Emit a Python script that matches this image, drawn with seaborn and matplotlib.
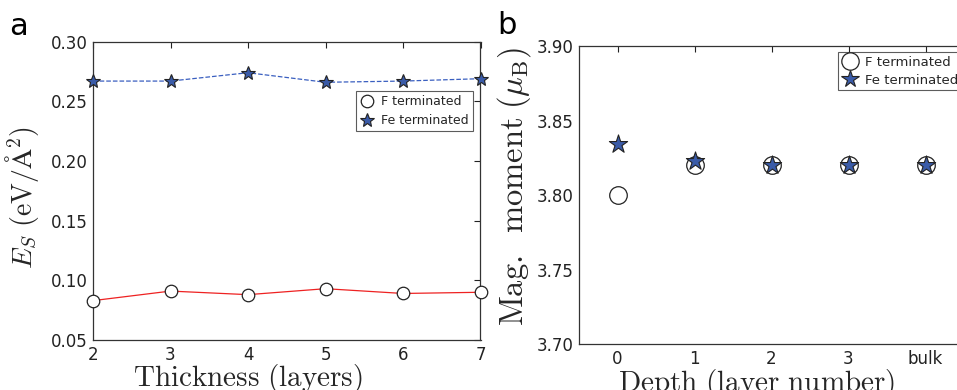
import numpy as np
import pandas as pd
import seaborn as sns
import matplotlib
matplotlib.use("Agg")
import matplotlib.pyplot as plt
from matplotlib.lines import Line2D

# ---- data ----
thickness = [2, 3, 4, 5, 6, 7]
es_f_term = [0.083, 0.091, 0.088, 0.093, 0.089, 0.090]
es_fe_term = [0.267, 0.267, 0.274, 0.266, 0.267, 0.269]

depth_labels = ["0", "1", "2", "3", "bulk"]
mag_f_term = [3.800, 3.820, 3.820, 3.820, 3.820]
mag_fe_term = [3.834, 3.823, 3.820, 3.820, 3.820]

sns.set_style("white")
plt.rcParams["font.family"] = ["DejaVu Sans"]
plt.rcParams["mathtext.fontset"] = "cm"

star_blue = "#3a5ba8"
edge = "#222222"

fig = plt.figure(figsize=(9.57, 3.9), dpi=100)
W, H = 957, 390
axa = fig.add_axes([93 / W, (H - 340) / H, (480.5 - 93) / W, (340 - 41.7) / H])
axb = fig.add_axes([579 / W, (H - 344) / H, 385 / W, (344 - 46) / H])

# ---- panel a ----
dfa = pd.DataFrame({"x": thickness, "f": es_f_term, "fe": es_fe_term})
sns.lineplot(data=dfa, x="x", y="fe", ax=axa, color="#3a5fc0", lw=0.9,
             linestyle="--", dashes=(5, 3), marker="*", markersize=10,
             markerfacecolor=star_blue, markeredgecolor=edge, markeredgewidth=0.8,
             clip_on=False, zorder=3)
sns.lineplot(data=dfa, x="x", y="f", ax=axa, color="#ee2222", lw=0.9,
             marker="o", markersize=9, markerfacecolor="white",
             markeredgecolor=edge, markeredgewidth=0.9, clip_on=False, zorder=3)
axa.set_xlim(2, 7)
axa.set_ylim(0.05, 0.30)
axa.set_xticks(thickness)
axa.set_yticks([0.05, 0.10, 0.15, 0.20, 0.25, 0.30])
axa.yaxis.set_major_formatter(matplotlib.ticker.FormatStrFormatter("%.2f"))
axa.set_xlabel(r"$\mathrm{Thickness\ (layers)}$", fontsize=21)
axa.set_ylabel(r"$E_S\ (\mathrm{eV/\AA^2})$", fontsize=20)
axa.xaxis.set_label_coords(0.40, -0.075)
axa.yaxis.set_label_coords(-0.135, 0.479)

h1 = Line2D([], [], ls="none", marker="o", markersize=9, markerfacecolor="white",
            markeredgecolor=edge, markeredgewidth=0.9)
h2 = Line2D([], [], ls="none", marker="*", markersize=10, markerfacecolor=star_blue,
            markeredgecolor=edge, markeredgewidth=0.8)
leg = axa.legend([h1, h2], ["F terminated", "Fe terminated"], loc="upper right",
                 bbox_to_anchor=(0.98, 0.835), fontsize=9, frameon=True, fancybox=False,
                 handlelength=1.0, handletextpad=0.6, borderpad=0.35, labelspacing=0.45,
                 borderaxespad=0)
leg.get_frame().set_edgecolor("#333333")
leg.get_frame().set_linewidth(0.8)

# ---- panel b ----
pos = list(range(len(depth_labels)))
dfb = pd.DataFrame({"x": pos, "f": mag_f_term, "fe": mag_fe_term})
sns.scatterplot(data=dfb, x="x", y="f", ax=axb, marker="o", s=160, color="white",
                edgecolor=edge, linewidth=0.9, zorder=3)
sns.scatterplot(data=dfb, x="x", y="fe", ax=axb, marker="*", s=190, color=star_blue,
                edgecolor=edge, linewidth=0.8, zorder=4)
axb.set_xlim(-0.5, 4.5)
axb.set_ylim(3.70, 3.90)
axb.set_xticks(pos)
axb.set_xticklabels(depth_labels)
axb.set_yticks([3.70, 3.75, 3.80, 3.85, 3.90])
axb.yaxis.set_major_formatter(matplotlib.ticker.FormatStrFormatter("%.2f"))
axb.set_xlabel(r"$\mathrm{Depth\ (layer\ number)}$", fontsize=21)
axb.set_ylabel(r"$\mathrm{Mag.\;\;moment}\;(\mu_\mathrm{B})$", fontsize=23.5)
axb.xaxis.set_label_coords(0.462, -0.077)
axb.yaxis.set_label_coords(-0.12, 0.53)

g1 = Line2D([], [], ls="none", marker="o", markersize=12.5, markerfacecolor="white",
            markeredgecolor=edge, markeredgewidth=0.9)
g2 = Line2D([], [], ls="none", marker="*", markersize=13, markerfacecolor=star_blue,
            markeredgecolor=edge, markeredgewidth=0.8)
legb = axb.legend([g1, g2], ["F terminated", "Fe terminated"], loc="upper left",
                  bbox_to_anchor=(0.672, 0.98), fontsize=9.5, frameon=True, fancybox=False,
                  handlelength=1.3, handletextpad=0.45, borderpad=0.3, labelspacing=0.35,
                  borderaxespad=0)
legb.get_frame().set_edgecolor("#333333")
legb.get_frame().set_linewidth(0.8)

for ax in (axa, axb):
    ax.tick_params(direction="in", length=4, width=0.8, top=True, right=True,
                   labelsize=12, colors="#222222", pad=4)
    for s in ax.spines.values():
        s.set_color("#333333")
        s.set_linewidth(0.9)
        s.set_visible(True)
    ax.grid(False)

fig.text(9 / W, 1 - 35 / H, "a", fontsize=22, color="black")
fig.text(497 / W, 1 - 34 / H, "b", fontsize=22, color="black")

fig.savefig("out.png", dpi=100)
